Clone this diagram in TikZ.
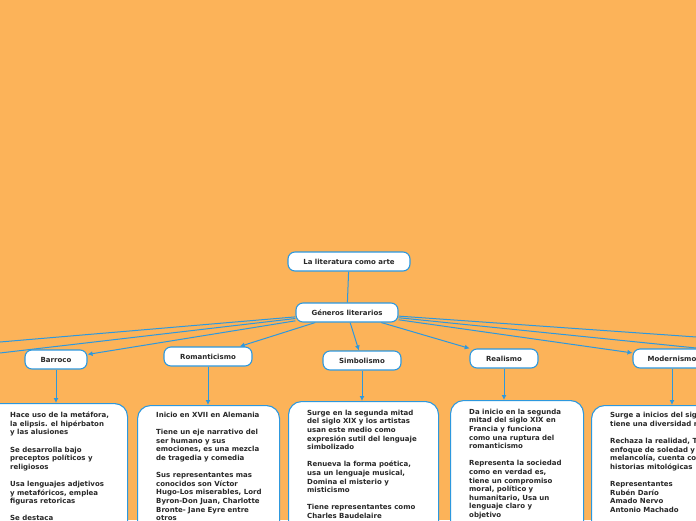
\documentclass[tikz,border=0pt]{standalone}
\usepackage{fontspec}
\setmainfont{DejaVu Sans}
\usetikzlibrary{arrows.meta}
\definecolor{bgc}{RGB}{252,179,89}
\definecolor{ln}{RGB}{45,152,222}
\definecolor{tx}{RGB}{40,40,40}
\pgfdeclarelayer{back}
\pgfdeclarelayer{lines}
\pgfsetlayers{back,lines,main}
\begin{document}
\begin{tikzpicture}[x=1pt,y=-1pt,
  lab/.style={draw=ln, line width=1.1pt, fill=white, rounded corners=7pt, minimum height=19pt, inner sep=0pt, font=\fontsize{7}{8.6}\selectfont\bfseries, text=tx},
  card/.style={draw=ln, line width=1.1pt, fill=white, rounded corners=13pt, anchor=north west, minimum height=170pt, inner sep=0pt},
  txt/.style={anchor=north west, align=left, inner sep=0pt, font=\fontsize{7}{8.6}\selectfont\bfseries, text=tx},
  conn/.style={draw=ln, line width=1pt, -{Latex[length=5pt,width=5pt]}},
  plain/.style={draw=ln, line width=1pt}
]
\useasboundingbox (0,0) rectangle (696,520);
\clip (0,0) rectangle (696,520);
\begin{pgfonlayer}{back}
\fill[bgc] (0,0) rectangle (696,520);
\end{pgfonlayer}

\node[lab, minimum width=122pt] (root) at (349,261.5) {La literatura como arte};
\node[lab, minimum width=102pt] (gen) at (347,312.5) {Géneros literarios};
\node[lab, minimum width=62pt] (bar) at (56,359.5) {Barroco};
\node[lab, minimum width=88pt] (rom) at (208,356.5) {Romanticismo};
\node[lab, minimum width=78pt] (sim) at (362,360.5) {Simbolismo};
\node[lab, minimum width=68pt] (rea) at (504,358.5) {Realismo};
\node[lab, minimum width=78pt] (mod) at (672,358.5) {Modernismo};

\node[card, minimum width=142pt] (barB) at (-15,403) {};
\node[card, minimum width=142pt] (romB) at (137,405) {};
\node[card, minimum width=150pt] (simB) at (288,401) {};
\node[card, minimum width=133pt] (reaB) at (450,400) {};
\node[card, minimum width=140pt] (modB) at (591,405) {};

\node[txt] (barT) at (10,411.5) {\rule{0pt}{6pt}Hace uso de la metáfora,\\la elipsis. el hipérbaton\\y las alusiones\\[8.6pt]Se desarrolla bajo\\preceptos políticos y\\religiosos\\[8.6pt]Usa lenguajes adjetivos\\y metafóricos, emplea\\figuras retoricas\\[8.6pt]Se destaca};
\node[txt] (romT) at (156,411.3) {\rule{0pt}{6pt}Inicio en XVII en Alemania\\[8.6pt]Tiene un eje narrativo del\\ser humano y sus\\emociones, es una mezcla\\de tragedia y comedia\\[8.6pt]Sus representantes mas\\conocidos son Víctor\\Hugo-Los miserables, Lord\\Byron-Don Juan, Charlotte\\Bronte- Jane Eyre entre\\otros};
\node[txt] (simT) at (307,409) {\rule{0pt}{6pt}Surge en la segunda mitad\\del siglo XIX y los artistas\\usan este medio como\\expresión sutil del lenguaje\\simbolizado\\[8.6pt]Renueva la forma poética,\\usa un lenguaje musical,\\Domina el misterio y\\misticismo\\[8.6pt]Tiene representantes como\\Charles Baudelaire};
\node[txt] (reaT) at (469,408) {\rule{0pt}{6pt}Da inicio en la segunda\\mitad del siglo XIX en\\Francia y funciona\\como una ruptura del\\romanticismo\\[8.6pt]Representa la sociedad\\como en verdad es,\\tiene un compromiso\\moral, político y\\humanitario, Usa un\\lenguaje claro y\\objetivo};
\node[txt] (modT) at (610,411.7) {\rule{0pt}{6pt}Surge a inicios del siglo\\tiene una diversidad m\\[8.6pt]Rechaza la realidad, T\\enfoque de soledad y\\melancolía, cuenta con\\historias mitológicas\\[8.6pt]Representantes\\Rubén Darío\\Amado Nervo\\Antonio Machado};

\coordinate (offL1) at (-300,367.5);
\coordinate (offL2) at (-300,388);
\coordinate (offR1) at (1000,358.3);
\coordinate (offR2) at (1000,378.9);

\begin{pgfonlayer}{lines}
\draw[plain] (root) -- (gen);
\draw[conn] (gen) -- (bar);
\draw[conn] (gen) -- (rom);
\draw[conn] (gen) -- (sim);
\draw[conn] (gen) -- (rea);
\draw[conn] (gen) -- (mod);
\draw[conn] (gen) -- (offL1);
\draw[conn] (gen) -- (offL2);
\draw[conn] (gen) -- (offR1);
\draw[conn] (gen) -- (offR2);
\draw[conn] (bar.south) -- (bar.south |- barB.north);
\draw[conn] (rom.south) -- (rom.south |- romB.north);
\draw[conn] (sim.south) -- (sim.south |- simB.north);
\draw[conn] (rea.south) -- (rea.south |- reaB.north);
\draw[conn] (mod.south) -- (mod.south |- modB.north);
\end{pgfonlayer}
\end{tikzpicture}
\end{document}
